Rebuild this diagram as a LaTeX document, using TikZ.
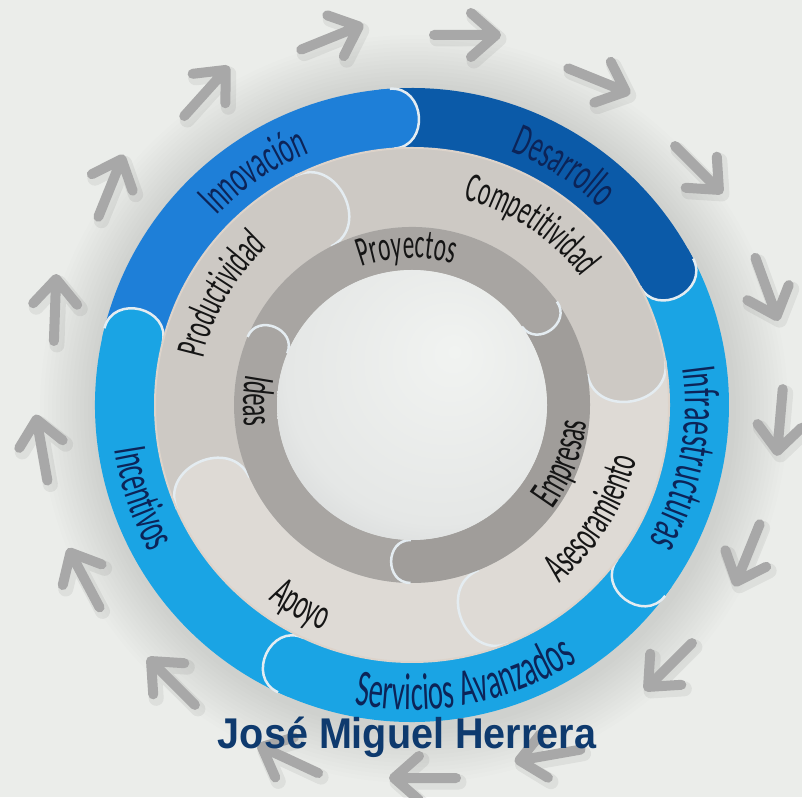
\documentclass[tikz,border=0pt]{standalone}
\usepackage{fontspec}
\usetikzlibrary{decorations.text}
\newfontfamily\handfont{Carlito}[FakeStretch=0.55]
\newfontfamily\titlefont{Liberation Sans}[FakeStretch=0.92]

\definecolor{bgcol}{HTML}{EBEDEA}
\definecolor{innoblue}{HTML}{1E7FD8}
\definecolor{darkblue}{HTML}{0B5AA8}
\definecolor{skyblue}{HTML}{1AA4E4}
\definecolor{ringgray}{HTML}{CDC9C4}
\definecolor{ringlight}{HTML}{DEDAD5}
\definecolor{coregray}{HTML}{A8A5A2}
\definecolor{coredark}{HTML}{A09D9A}
\definecolor{arrowgray}{HTML}{A8A8A8}
\definecolor{capwhite}{HTML}{E4ECF1}
\definecolor{seam}{HTML}{DDD3CA}
\definecolor{navy}{HTML}{0E3A6E}
\definecolor{inkblue}{HTML}{0C2458}
\definecolor{inkblack}{HTML}{151515}
\definecolor{coreA}{HTML}{F1F3F1}
\definecolor{coreB}{HTML}{E5E7E6}
\definecolor{coreC}{HTML}{BEC0C2}

\pgfdeclareradialshading{coreglow}{\pgfpoint{8bp}{10bp}}{color(0bp)=(coreA); color(28bp)=(coreB); color(50bp)=(coreC); color(70bp)=(coreC)}

\newcommand{\handsize}[1]{\handfont\fontsize{#1}{#1}\selectfont}

\tikzset{
  arrowstroke/.style={arrowgray, line width=10, line cap=round, line join=round},
  arrowshade/.style={black, opacity=0.06, line width=15, line cap=round, line join=round},
  capline/.style={draw=capwhite, line width=2.5},
  ringlabel/.style={decorate, decoration={text along path, text align=center, text color=#1}},
  titletext/.style={anchor=base, inner sep=0, text=navy, font=\titlefont\bfseries\fontsize{43}{46}\selectfont},
}

\begin{document}
\begin{tikzpicture}[x=1pt,y=1pt]
        \useasboundingbox (0,0) rectangle (802,797);
        \fill[bgcol] (0,0) rectangle (802,797);
        
        \coordinate (hub) at (412,392);
        
        % soft shadow round the wheel
        \foreach \i in {1,...,14}
          \fill[black, opacity=0.008] ([shift={(2,-4)}]hub) circle (318+4*\i);
        
        % arrows round the wheel
        \foreach \x/\y/\r in {55/310/88, 110/188/68, 205/93/48, 330/38/22, 465/35/0, 597/80/-22,
            697/168/-45, 766/287/-70, 780/420/-95, 748/553/-112, 670/665/-135, 550/755/-170,
            425/778/180, 290/760/155, 173/683/135, 85/580/118, 42/450/100}{
          \draw[arrowshade, shift={(\x+3,793-\y)}, rotate=\r] (-31,0) -- (31,0) (6,22) -- (31,0) -- (6,-22);
          \draw[arrowstroke, shift={(\x,797-\y)}, rotate=\r] (-31,0) -- (31,0) (6,22) -- (31,0) -- (6,-22);
        }
        
        \begin{scope}[shift={(hub)}]
          % outer ring
          \foreach \a/\b/\col in {245/166/skyblue, 166/94/innoblue, 94/27.5/darkblue, 27.5/-37/skyblue, -37/-115/skyblue}
            \fill[\col] (\a:317) arc[start angle=\a, end angle=\b, radius=317] -- (\b:257) arc[start angle=\b, end angle=\a, radius=257] -- cycle;
          \foreach \b/\col in {166/skyblue, 94/innoblue, 27.5/darkblue, -37/skyblue, -115/skyblue}{
            \fill[\col] (\b+2:317) arc[start angle=\b+2, end angle=\b, radius=317] .. controls +(\b-90:36) and +(\b-90:36) .. (\b:257) arc[start angle=\b, end angle=\b+2, radius=257] -- cycle;
            \draw[capline] (\b:317) .. controls +(\b-90:36) and +(\b-90:36) .. (\b:257);
          }
          
          % middle ring
          \foreach \a/\b/\col in {204/117/ringgray, 117/10/ringgray, 10/-68/ringlight, -68/-156/ringlight}
            \fill[\col] (\a:257) arc[start angle=\a, end angle=\b, radius=257] -- (\b:178) arc[start angle=\b, end angle=\a, radius=178] -- cycle;
          \foreach \b/\col in {117/ringgray, 10/ringgray, -68/ringlight, -156/ringlight}{
            \fill[\col] (\b+2:257) arc[start angle=\b+2, end angle=\b, radius=257] .. controls +(\b-90:46) and +(\b-90:46) .. (\b:178) arc[start angle=\b, end angle=\b+2, radius=178] -- cycle;
            \draw[capline] (\b:257) .. controls +(\b-90:46) and +(\b-90:46) .. (\b:178);
          }
          \draw[seam, line width=2] (0,0) circle (257);
          
          % inner ring
          \foreach \a/\b/\col in {157.5/35.5/coregray, 35.5/-90.5/coredark, 269.5/157.5/coregray}
            \fill[\col] (\a:178) arc[start angle=\a, end angle=\b, radius=178] -- (\b:135) arc[start angle=\b, end angle=\a, radius=135] -- cycle;
          \foreach \b/\col in {35.5/coregray, -90.5/coredark, 157.5/coregray}{
            \fill[\col] (\b+2:178) arc[start angle=\b+2, end angle=\b, radius=178] .. controls +(\b-90:26) and +(\b-90:26) .. (\b:135) arc[start angle=\b, end angle=\b+2, radius=135] -- cycle;
            \draw[capline] (\b:178) .. controls +(\b-90:26) and +(\b-90:26) .. (\b:135);
          }
          
          \shade[shading=coreglow] (0,0) circle (135);
          
          % labels
          \path[ringlabel=inkblue, decoration={text={|\handsize{46}|Innovación}}] (154:272) arc[start angle=154, end angle=94, radius=272];
          \path[ringlabel=inkblue, decoration={text={|\handsize{46}|Desarrollo}}] (87.5:272) arc[start angle=87.5, end angle=27.5, radius=272];
          \path[ringlabel=inkblue, decoration={text={|\handsize{50}|Infraestructuras}}] (29:273) arc[start angle=29, end angle=-51, radius=273];
          \path[ringlabel=inkblue, decoration={text={|\handsize{52}|Servicios Avanzados}}] (-119:305) arc[start angle=-119, end angle=-39, radius=305];
          \path[ringlabel=inkblue, decoration={text={|\handsize{48}|Incentivos}}] (169:301) arc[start angle=169, end angle=229, radius=301];
          
          \path[ringlabel=inkblack, decoration={text={|\handsize{42}|Productividad}}] (190:214) arc[start angle=190, end angle=110, radius=214];
          \path[ringlabel=inkblack, decoration={text={|\handsize{42}|Competitividad}}] (96.5:212) arc[start angle=96.5, end angle=16.5, radius=212];
          \path[ringlabel=inkblack, decoration={text={|\handsize{44}|Asesoramiento}}] (-72:231) arc[start angle=-72, end angle=8, radius=231];
          \path[ringlabel=inkblack, decoration={text={|\handsize{44}|Apoyo}}] (-144:242) arc[start angle=-144, end angle=-94, radius=242];
          
          \path[ringlabel=inkblack, decoration={text={|\handsize{42}|Proyectos}}] (132:147) arc[start angle=132, end angle=52, radius=147];
          \path[ringlabel=inkblack, decoration={text={|\handsize{44}|Ideas}}] (148.5:169) arc[start angle=148.5, end angle=208.5, radius=169];
          \path[ringlabel=inkblack, decoration={text={|\handsize{44}|Empresas}}] (-61:175) arc[start angle=-61, end angle=19, radius=175];
        \end{scope}
        
        \node[titletext] (author) at (407,49) {José Miguel Herrera};
    \end{tikzpicture}
\end{document}
